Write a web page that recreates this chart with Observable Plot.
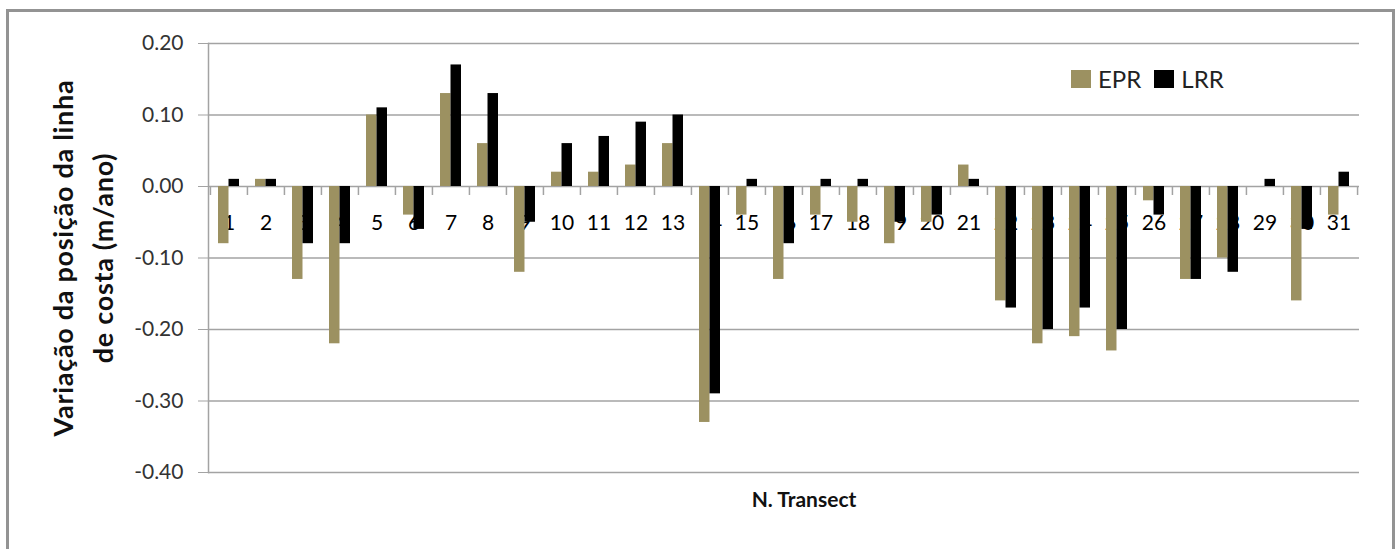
<!DOCTYPE html>
<html>
<head>
<meta charset="utf-8">
<script src="https://cdn.jsdelivr.net/npm/d3@7"></script>
<script src="https://cdn.jsdelivr.net/npm/@observablehq/plot@0.6"></script>
<style>
  body { margin: 0; background: #fff; }
  #chart { position: relative; width: 1400px; height: 549px; overflow: hidden; }
  #border { position: absolute; left: 6px; top: 9px; width: 1389px; height: 600px;
            border: 3px solid #939393; box-sizing: border-box; pointer-events: none; }
  #legend { position: absolute; left: 1071px; top: 62px; }
  #legend .leg-swatch { margin-right: 13px !important; color: #222; }
  #legend .leg-swatch > svg { margin-right: 7px !important; }
</style>
</head>
<body>
<div id="chart"><div id="border"></div><div id="legend"></div></div>
<script>
// Shoreline change rates per transect (m/ano)
const transects = ["1","2","3","4","5","6","7","8","9","10","11","12","13","14","15","16",
                   "17","18","19","20","21","22","23","24","25","26","27","28","29","30","31"];
const epr = [-0.08, 0.01, -0.13, -0.22, 0.10, -0.04, 0.13, 0.06, -0.12, 0.02, 0.02, 0.03, 0.06,
             -0.33, -0.04, -0.13, -0.04, -0.05, -0.08, -0.05, 0.03, -0.16, -0.22, -0.21, -0.23,
             -0.02, -0.13, -0.10, 0.00, -0.16, -0.04];
const lrr = [0.01, 0.01, -0.08, -0.08, 0.11, -0.06, 0.17, 0.13, -0.05, 0.06, 0.07, 0.09, 0.10,
             -0.29, 0.01, -0.08, 0.01, 0.01, -0.05, -0.04, 0.01, -0.17, -0.20, -0.17, -0.20,
             -0.04, -0.13, -0.12, 0.01, -0.06, 0.02];
const seriesNames = ["EPR", "LRR"];
const seriesColors = ["#9c9161", "#000000"];
const yTicks = [-0.4, -0.3, -0.2, -0.1, 0, 0.1, 0.2];
const yTitle = ["Variação da posição da linha", "de costa (m/ano)"];
const xTitle = "N. Transect";

const rows = [
  ...transects.map((t, i) => ({transect: t, series: "EPR", value: epr[i]})),
  ...transects.map((t, i) => ({transect: t, series: "LRR", value: lrr[i]}))
];

const W = 1400, H = 549, mL = 208, mR = 41, mT = 43, mB = 77;
const step = (W - mL - mR) / transects.length;
const half = step * 0.283;          // width of one bar in a pair
const pad = 1 - (2 * half) / step;  // gap between pairs
const font = "Lato, 'Noto Sans', sans-serif";
const fmt = d => d.toFixed(2);      // plain hyphen-minus, as in spreadsheet output

const titleStyle = {frameAnchor: "left", rotate: -90, fontSize: 27, fontWeight: "bold",
                    fill: "#111", textAnchor: "middle", lineAnchor: "middle"};

const chart = Plot.plot({
  width: W, height: H,
  marginLeft: mL, marginRight: mR, marginTop: mT, marginBottom: mB,
  style: {fontFamily: font, background: "transparent"},
  x: {domain: transects, paddingInner: pad, paddingOuter: pad / 2, axis: null},
  y: {domain: [-0.4, 0.2], axis: null},
  color: {domain: seriesNames, range: seriesColors},
  marks: [
    Plot.gridY(yTicks, {stroke: "#a3a3a3", strokeOpacity: 1, strokeWidth: 1.5}),
    Plot.axisY(yTicks, {tickSize: 10, tickPadding: 15, tickFormat: fmt,
                        fontSize: 21, fill: "#333", stroke: "#a3a3a3", label: null}),
    Plot.frame({anchor: "left", stroke: "#a3a3a3", strokeWidth: 1.5}),
    // category separators below the zero line
    Plot.ruleX(transects, {x: d => d, y1: () => 0, y2: () => 0, dx: -step / 2,
                           insetBottom: -9, stroke: "#a3a3a3", strokeWidth: 1.5}),
    Plot.ruleX(transects.slice(-1), {x: d => d, y1: () => 0, y2: () => 0, dx: step / 2,
                           insetBottom: -9, stroke: "#a3a3a3", strokeWidth: 1.5}),
    // transect numbers sit under the bars
    Plot.text(transects, {x: d => d, y: () => 0, text: d => d, dy: 37,
                          fontSize: 21, fill: "#000", lineAnchor: "middle"}),
    Plot.barY(rows.filter(d => d.series === "EPR"),
              {x: "transect", y: "value", fill: "series", insetRight: half}),
    Plot.barY(rows.filter(d => d.series === "LRR"),
              {x: "transect", y: "value", fill: "series", insetLeft: half}),
    Plot.text([yTitle[0]], {...titleStyle, dx: -144}),
    Plot.text([yTitle[1]], {...titleStyle, dx: -104}),
    Plot.text([xTitle], {frameAnchor: "bottom", dx: 20, dy: 28, fontSize: 21,
                         fontWeight: "bold", fill: "#111", lineAnchor: "middle"})
  ]
});
chart.querySelectorAll("text").forEach(t => {
  if (yTitle.includes(t.textContent)) t.style.letterSpacing = "0.7px";
});
document.getElementById("chart").prepend(chart);

const legend = Plot.legend({
  color: {domain: seriesNames, range: seriesColors},
  legend: "swatches",
  swatchWidth: 20, swatchHeight: 18,
  className: "leg",
  style: {fontSize: "24px", fontFamily: font}
});
document.getElementById("legend").append(legend);
</script>
</body>
</html>
